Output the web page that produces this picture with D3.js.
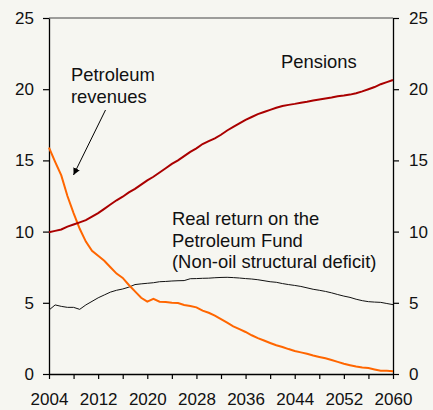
<!DOCTYPE html>
<html>
<head>
<meta charset="utf-8">
<script src="https://cdn.jsdelivr.net/npm/d3@7"></script>
<style>
  html, body { margin: 0; padding: 0; background: #f6f6f1; }
  svg { display: block; font-family: "Liberation Sans", Arial, sans-serif; }
</style>
</head>
<body>
<div id="chart"></div>
<script>
// yearly values, percent of mainland GDP
const years = d3.range(2004, 2061);

const pensions = [
  9.95, 10.05, 10.15, 10.35, 10.5, 10.65, 10.8, 11.05, 11.3, 11.6,
  11.9, 12.2, 12.45, 12.75, 13.0, 13.3, 13.6, 13.85, 14.15, 14.45,
  14.75, 15.0, 15.3, 15.6, 15.85, 16.15, 16.35, 16.55, 16.8, 17.1,
  17.35, 17.6, 17.85, 18.05, 18.25, 18.4, 18.55, 18.7, 18.82, 18.9,
  18.97, 19.05, 19.12, 19.2, 19.28, 19.35, 19.42, 19.5, 19.55, 19.62,
  19.72, 19.85, 20.0, 20.15, 20.35, 20.5, 20.65
];

const petroleumRevenues = [
  15.9, 14.9, 13.95, 12.5, 11.3, 10.2, 9.3, 8.65, 8.3, 7.95,
  7.5, 7.05, 6.75, 6.25, 5.8, 5.35, 5.08, 5.27, 5.08, 5.05,
  5.0, 4.98, 4.85, 4.78, 4.68, 4.45, 4.3, 4.1, 3.85, 3.6,
  3.35, 3.15, 2.95, 2.72, 2.52, 2.35, 2.18, 2.02, 1.9, 1.75,
  1.62, 1.52, 1.42, 1.3, 1.2, 1.1, 0.98, 0.85, 0.72, 0.62,
  0.52, 0.45, 0.42, 0.32, 0.23, 0.22, 0.19
];

const realReturn = [
  4.49, 4.85, 4.75, 4.68, 4.68, 4.54, 4.85, 5.1, 5.35, 5.55,
  5.75, 5.88, 5.97, 6.1, 6.28, 6.33, 6.37, 6.41, 6.48, 6.5,
  6.53, 6.55, 6.56, 6.69, 6.7, 6.72, 6.73, 6.76, 6.78, 6.79,
  6.77, 6.74, 6.7, 6.67, 6.62, 6.55, 6.48, 6.44, 6.35, 6.28,
  6.22, 6.15, 6.05, 5.95, 5.88, 5.8, 5.7, 5.58, 5.47, 5.38,
  5.25, 5.15, 5.08, 5.05, 5.03, 4.95, 4.87
];

const yTicks = [0, 5, 10, 15, 20, 25];
const xTicks = d3.range(2004, 2061, 4);
const xLabels = [2004, 2012, 2020, 2028, 2036, 2044, 2052, 2060];

const width = 433, height = 410;
const margin = { top: 18, right: 40, bottom: 36, left: 49 };

const svg = d3.select("#chart").append("svg")
  .attr("width", width)
  .attr("height", height);

svg.append("rect").attr("width", width).attr("height", height).attr("fill", "#f6f6f1");

const x = d3.scaleLinear()
  .domain([2004, 2060])
  .range([margin.left, width - margin.right]);

const y = d3.scaleLinear()
  .domain([0, 25])
  .range([height - margin.bottom, margin.top]);

// top border
svg.append("line")
  .attr("x1", x(2004)).attr("x2", x(2060))
  .attr("y1", y(25)).attr("y2", y(25))
  .attr("stroke", "#444").attr("stroke-width", 1);

const styleAxis = g => {
  g.select(".domain").attr("stroke", "#000").attr("stroke-width", 1.3);
  g.selectAll(".tick line").attr("stroke", "#000").attr("stroke-width", 1.2);
  g.selectAll(".tick text").attr("fill", "#111").attr("font-size", 17)
    .attr("font-family", "'Liberation Sans', Arial, sans-serif");
};

svg.append("g")
  .attr("transform", `translate(${x(2004)},0)`)
  .call(d3.axisLeft(y).tickValues(yTicks).tickSize(6).tickSizeOuter(0).tickPadding(9))
  .call(styleAxis);

svg.append("g")
  .attr("transform", `translate(${x(2060)},0)`)
  .call(d3.axisRight(y).tickValues(yTicks).tickSize(6).tickSizeOuter(0).tickPadding(10))
  .call(styleAxis);

svg.append("g")
  .attr("transform", `translate(0,${y(0)})`)
  .call(d3.axisBottom(x).tickValues(xTicks).tickSize(5).tickSizeOuter(0).tickPadding(14)
    .tickFormat(d => xLabels.includes(d) ? String(d) : ""))
  .call(styleAxis);

const line = vals => d3.line()
  .x((d, i) => x(years[i]))
  .y(d => y(d))(vals);

svg.append("path").attr("d", line(realReturn))
  .attr("fill", "none").attr("stroke", "#111").attr("stroke-width", 1);

svg.append("path").attr("d", line(petroleumRevenues))
  .attr("fill", "none").attr("stroke", "#ff6600").attr("stroke-width", 2);

svg.append("path").attr("d", line(pensions))
  .attr("fill", "none").attr("stroke", "#aa0000").attr("stroke-width", 2);

// annotations
const label = (lines, px, py) => {
  const t = svg.append("text")
    .attr("font-size", 18.4).attr("fill", "#111");
  lines.forEach((s, i) => t.append("tspan").attr("x", px).attr("y", py + i * 21.5).text(s));
};

label(["Petroleum", "revenues"], 71, 81);
label(["Pensions"], 281, 68);
label(["Real return on the", "Petroleum Fund", "(Non-oil structural deficit)"], 172, 225);

svg.append("defs").append("marker")
  .attr("id", "arrow")
  .attr("viewBox", "0 0 10 10")
  .attr("refX", 10).attr("refY", 5)
  .attr("markerWidth", 7).attr("markerHeight", 7)
  .attr("markerUnits", "userSpaceOnUse")
  .attr("orient", "auto")
  .append("path").attr("d", "M0,0L10,5L0,10z").attr("fill", "#000");

svg.append("line")
  .attr("x1", 105.5).attr("y1", 110)
  .attr("x2", 73.5).attr("y2", 175)
  .attr("stroke", "#000").attr("stroke-width", 1)
  .attr("marker-end", "url(#arrow)");
</script>
</body>
</html>
